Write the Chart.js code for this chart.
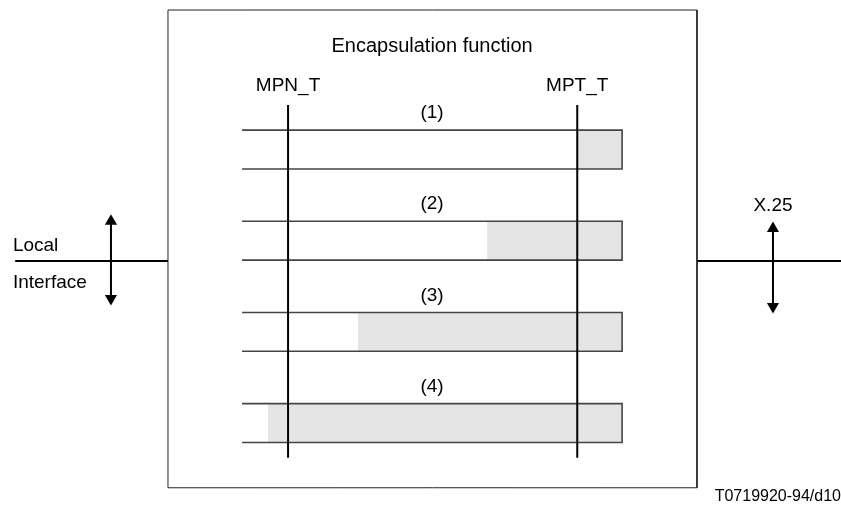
<!DOCTYPE html>
<html>
<head>
<meta charset="utf-8">
<script src="https://cdn.jsdelivr.net/npm/chart.js@4.4.1/dist/chart.umd.min.js"></script>
<style>
  html, body { margin: 0; padding: 0; background: #fff; }
  #wrap { width: 841px; height: 506px; }
</style>
</head>
<body>
<div id="wrap"><canvas id="diagram"></canvas></div>
<script>
// packet rows, x measured in % of packet length (0 = left end, 100 = right end)
const rowLabels = ['(1)', '(2)', '(3)', '(4)'];
const encapStart = [88.2, 64.5, 30.5, 6.8];   // where the encapsulated (grey) part begins
const pointNames = ['MPN_T', 'MPT_T'];
const pointPos = [12.1, 88.2];
const sideLabels = ['Local', 'Interface'];
const rightLabel = 'X.25';
const title = 'Encapsulation function';
const figureRef = 'T0719920-94/d10';

// frame: x in packet %, y in row units (row 0 centre = 0, rows 1 apart)
const X_MIN = -63.7, X_MAX = 157.6;
const Y_MIN = -1.64, Y_MAX = 3.91;
const HALF = 0.213;
const BOX = { left: -19.5, right: 119.7, top: -1.53, bottom: 3.71 };
const LINK_Y = 1.223;
const FONT = '"Liberation Sans", Arial, sans-serif';

const datasets = [];
const line = (pts, extra) => datasets.push(Object.assign({
  type: 'line', data: pts, showLine: true, pointRadius: 0,
  borderColor: '#000', borderWidth: 1.5, fill: false, tension: 0
}, extra));

// outer box
line([
  { x: BOX.left, y: BOX.top }, { x: BOX.right, y: BOX.top },
  { x: BOX.right, y: BOX.bottom }, { x: BOX.left, y: BOX.bottom },
  { x: BOX.left, y: BOX.top }
], { borderColor: '#222', borderWidth: 1 });

// packets
rowLabels.forEach((lab, i) => {
  const s = encapStart[i];
  line([
    { x: s, y: i - HALF }, { x: 100, y: i - HALF }, { x: 100, y: i + HALF },
    { x: s, y: i + HALF }, { x: s, y: i - HALF }
  ], { borderWidth: 0, borderColor: 'rgba(0,0,0,0)', backgroundColor: '#e4e4e4', fill: 'shape', order: 5 });
  line([{ x: 0, y: i - HALF }, { x: 100, y: i - HALF }, { x: 100, y: i + HALF }, { x: 0, y: i + HALF }],
    { borderColor: '#444', borderWidth: 1.6, order: 3 });
});

// MPN_T / MPT_T reference lines
pointPos.forEach(p => line([{ x: p, y: -0.488 }, { x: p, y: 3.38 }], { borderWidth: 2, order: 1 }));

// interface links and arrows
line([{ x: -59.7, y: LINK_Y }, { x: BOX.left, y: LINK_Y }], { borderWidth: 2 });
line([{ x: BOX.right, y: LINK_Y }, { x: X_MAX, y: LINK_Y }], { borderWidth: 2 });
const arrow = (x, y1, y2) => {
  line([{ x: x, y: y1 + 0.06 }, { x: x, y: y2 - 0.06 }], { borderWidth: 2 });
  line([{ x: x, y: y1 + 0.07 }, { x: x, y: y2 - 0.07 }], {
    showLine: false, pointStyle: 'triangle', pointRadius: 7,
    pointRotation: [0, 180], pointBackgroundColor: '#000', pointBorderColor: '#000', pointBorderWidth: 0
  });
};
arrow(-34.5, 0.718, 1.705);
arrow(139.7, 0.795, 1.793);

const textPlugin = {
  id: 'labels',
  afterDatasetsDraw(chart) {
    const { ctx, scales: { x, y } } = chart;
    const put = (t, vx, vy, align) => {
      ctx.textAlign = align || 'center';
      ctx.fillText(t, x.getPixelForValue(vx), y.getPixelForValue(vy));
    };
    ctx.save();
    ctx.fillStyle = '#000';
    ctx.textBaseline = 'middle';
    ctx.font = '20px ' + FONT;
    put(title, 50, -1.135);
    ctx.font = '19px ' + FONT;
    pointNames.forEach((n, i) => put(n, pointPos[i], -0.696));
    rowLabels.forEach((l, i) => put(l, 50, i - 0.4));
    put(sideLabels[0], -60.3, 1.058, 'left');
    put(sideLabels[1], -60.3, 1.464, 'left');
    put(rightLabel, 139.7, 0.62);
    ctx.font = '16px ' + FONT;
    put(figureRef, 157.6, 3.81, 'right');
    ctx.restore();
  }
};

new Chart(document.getElementById('diagram'), {
  type: 'scatter',
  data: { datasets: datasets },
  options: {
    responsive: true,
    maintainAspectRatio: false,
    animation: false,
    layout: { padding: 0, autoPadding: false },
    plugins: { legend: { display: false }, tooltip: { enabled: false } },
    scales: {
      x: { type: 'linear', min: X_MIN, max: X_MAX, display: false },
      y: { type: 'linear', min: Y_MIN, max: Y_MAX, reverse: true, display: false }
    }
  },
  plugins: [textPlugin]
});
</script>
</body>
</html>
